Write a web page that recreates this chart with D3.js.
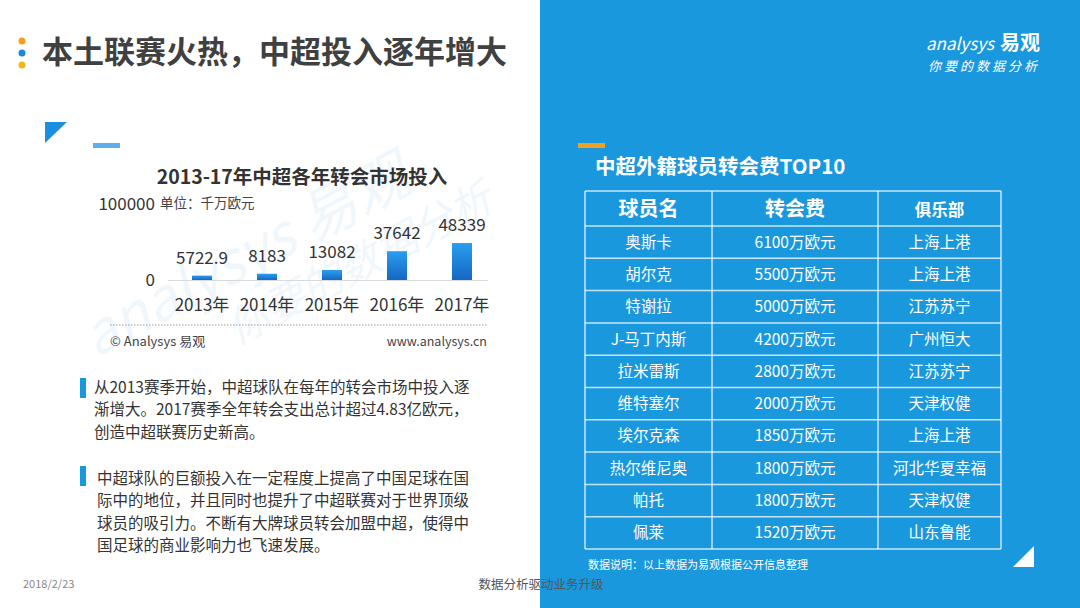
<!DOCTYPE html>
<html><head><meta charset="utf-8">
<script src="https://cdn.jsdelivr.net/npm/d3@7/dist/d3.min.js"></script>
<style>
html,body{margin:0;padding:0;background:#fff;}
svg{display:block;font-family:"Noto Sans CJK SC","Microsoft YaHei",sans-serif;}
</style></head>
<body>
<svg id="c" width="1080" height="608"></svg>
<script>
// ---- data ----
const years = ["2013年","2014年","2015年","2016年","2017年"];
const values = [5722.9, 8183, 13082, 37642, 48339];
const valueLabels = ["5722.9","8183","13082","37642","48339"];
const yTicks = [0, 100000];
const headers = ["球员名","转会费","俱乐部"];
const players = ["奥斯卡","胡尔克","特谢拉","J-马丁内斯","拉米雷斯","维特塞尔","埃尔克森","热尔维尼奥","帕托","佩莱"];
const fees = [6100,5500,5000,4200,2800,2000,1850,1800,1800,1520];
const clubs = ["上海上港","上海上港","江苏苏宁","广州恒大","江苏苏宁","天津权健","上海上港","河北华夏幸福","天津权健","山东鲁能"];
const para1 = ["从2013赛季开始，中超球队在每年的转会市场中投入逐","渐增大。2017赛季全年转会支出总计超过4.83亿欧元，","创造中超联赛历史新高。"];
const para2 = ["中超球队的巨额投入在一定程度上提高了中国足球在国","际中的地位，并且同时也提升了中超联赛对于世界顶级","球员的吸引力。不断有大牌球员转会加盟中超，使得中","国足球的商业影响力也飞速发展。"];

const svg = d3.select("#c");
const defs = svg.append("defs");
const g1 = defs.append("linearGradient").attr("id","barG").attr("x1",0).attr("y1",0).attr("x2",0).attr("y2",1);
g1.append("stop").attr("offset","0%").attr("stop-color","#2a9df0");
g1.append("stop").attr("offset","100%").attr("stop-color","#1468c4");

// right blue panel
svg.append("rect").attr("x",540).attr("y",0).attr("width",540).attr("height",608).attr("fill","#1a98de");

// title dots
[["#f5a01a",41],["#1a88d8",53],["#efb818",65]].forEach(d=>{
  svg.append("circle").attr("cx",22).attr("cy",d[1]).attr("r",3.5).attr("fill",d[0]);
});
svg.append("text").attr("x",42).attr("y",63).attr("font-size",31).attr("font-weight","bold")
  .attr("fill","#404040").text("本土联赛火热，中超投入逐年增大");

// decorative triangle + dash
svg.append("path").attr("d","M45,122L67,122L45,143Z").attr("fill","#1a8fdf");
svg.append("rect").attr("x",93).attr("y",143).attr("width",27).attr("height",5).attr("fill","#5eaeee");

// watermark
const wm = svg.append("g").attr("transform","translate(290,255) rotate(-28)").attr("opacity",0.06).attr("fill","#1a88d8");
wm.append("text").attr("x",-220).attr("y",0).attr("font-size",58).attr("font-style","italic").text("analysys 易观");
wm.append("text").attr("x",-90).attr("y",55).attr("font-size",42).attr("font-style","italic").text("你要的数据分析");

// chart
const x = d3.scaleBand().domain(years).range([159.5,504.5]).paddingInner(0.692).paddingOuter(0.5);
const y = d3.scaleLinear().domain([0,100000]).range([280,203.5]);
svg.append("text").attr("x",302).attr("y",184).attr("text-anchor","middle").attr("font-size",19.5)
  .attr("font-weight","bold").attr("fill","#333").text("2013-17年中超各年转会市场投入");

svg.selectAll("rect.bar").data(values).join("rect").attr("class","bar")
  .attr("x",(d,i)=>x(years[i])).attr("width",x.bandwidth())
  .attr("y",d=>y(d)).attr("height",d=>y(0)-y(d)).attr("fill","url(#barG)");
svg.append("line").attr("x1",168).attr("x2",488).attr("y1",y(0)+0.5).attr("y2",y(0)+0.5).attr("stroke","#d9d9d9").attr("stroke-width",1.2);

svg.selectAll("text.vl").data(values).join("text").attr("class","vl")
  .attr("x",(d,i)=>x(years[i])+x.bandwidth()/2).attr("y",d=>y(d)-12)
  .attr("text-anchor","middle").attr("font-size",17).attr("fill","#333").text((d,i)=>valueLabels[i]);

svg.selectAll("text.xl").data(years).join("text").attr("class","xl")
  .attr("x",d=>x(d)+x.bandwidth()/2).attr("y",311).attr("text-anchor","middle")
  .attr("font-size",17).attr("fill","#333").text(d=>d);

svg.selectAll("text.yl").data(yTicks).join("text").attr("class","yl")
  .attr("x",155).attr("y",d=>y(d)+6).attr("text-anchor","end").attr("font-size",17).attr("fill","#333").text(d=>d);
svg.append("text").attr("x",160).attr("y",208).attr("font-size",13.5).attr("fill","#444").text("单位：千万欧元");

svg.append("line").attr("x1",110).attr("x2",487).attr("y1",325).attr("y2",325).attr("stroke","#999").attr("stroke-dasharray","1.5,1.5");
svg.append("text").attr("x",110).attr("y",346).attr("font-size",13).attr("fill","#444").text("© Analysys 易观");
svg.append("text").attr("x",487).attr("y",346).attr("text-anchor","end").attr("font-size",12.5).attr("fill","#444").text("www.analysys.cn");

// paragraphs
function para(lines, x0, y0, barY){
  svg.append("rect").attr("x",80).attr("y",barY).attr("width",6).attr("height",20).attr("fill","#1a98de");
  svg.selectAll(null).data(lines).join("text").attr("x",x0).attr("y",(d,i)=>y0+i*22.3)
    .attr("font-size",15.5).attr("fill","#333").text(d=>d);
}
para(para1, 94, 393, 378);
para(para2, 97, 484, 466);

// footer
svg.append("text").attr("x",23).attr("y",588).attr("font-size",11).attr("fill","#888").text("2018/2/23");
svg.append("text").attr("x",541).attr("y",589).attr("text-anchor","middle").attr("font-size",12.5).attr("fill","#555").text("数据分析驱动业务升级");

// logo
svg.append("text").attr("x",1040).attr("y",50).attr("text-anchor","end").attr("fill","#fff")
  .attr("font-size",17).attr("font-style","italic").text("analysys").append("tspan").attr("font-size",20).attr("font-weight","bold").attr("font-style","normal").attr("dx",6).text("易观");
svg.append("text").attr("x",1040).attr("y",71).attr("text-anchor","end").attr("fill","#fff")
  .attr("font-size",13).attr("font-style","italic").attr("letter-spacing",3).text("你要的数据分析");

// table
svg.append("rect").attr("x",578).attr("y",143).attr("width",27).attr("height",5).attr("fill","#f0a020");
svg.append("text").attr("x",595).attr("y",174).attr("font-size",20.5).attr("font-weight","bold").attr("fill","#fff").text("中超外籍球员转会费TOP10");

const cols = [585,712,878,1001];
const headTop = 191, headBot = 226, tBot = 549;
const rowY = d3.scaleBand().domain(d3.range(players.length)).range([headBot,tBot]);
const tbl = svg.append("g");
const lineC = "rgba(255,255,255,0.75)";
tbl.selectAll("line.h").data([headTop].concat(d3.range(players.length).map(i=>rowY(i)), [tBot])).join("line")
  .attr("x1",cols[0]).attr("x2",cols[3]).attr("y1",d=>d).attr("y2",d=>d).attr("stroke",lineC).attr("stroke-width",1.5);
tbl.selectAll("line.v").data(cols).join("line")
  .attr("x1",d=>d).attr("x2",d=>d).attr("y1",headTop).attr("y2",tBot).attr("stroke",lineC).attr("stroke-width",1.5);
const colC = i=>(cols[i]+cols[i+1])/2;
tbl.selectAll("text.hd").data(headers).join("text")
  .attr("x",(d,i)=>colC(i)).attr("y",(headTop+headBot)/2+7).attr("text-anchor","middle")
  .attr("font-size",(d,i)=>i===2?16.5:20).attr("font-weight","bold").attr("fill","#fff").text(d=>d);
const rows = players.map((p,i)=>[p, fees[i]+"万欧元", clubs[i]]);
rows.forEach((r,i)=>{
  tbl.selectAll(null).data(r).join("text")
    .attr("x",(d,j)=>colC(j)).attr("y",rowY(i)+rowY.bandwidth()/2+5.5).attr("text-anchor","middle")
    .attr("font-size",15.5).attr("fill","#fff").text(d=>d);
});
svg.append("text").attr("x",588).attr("y",569).attr("font-size",11).attr("fill","#fff").text("数据说明：以上数据为易观根据公开信息整理");
svg.append("path").attr("d","M1034,546L1034,567L1013,567Z").attr("fill","#fff");
</script>
</body></html>
